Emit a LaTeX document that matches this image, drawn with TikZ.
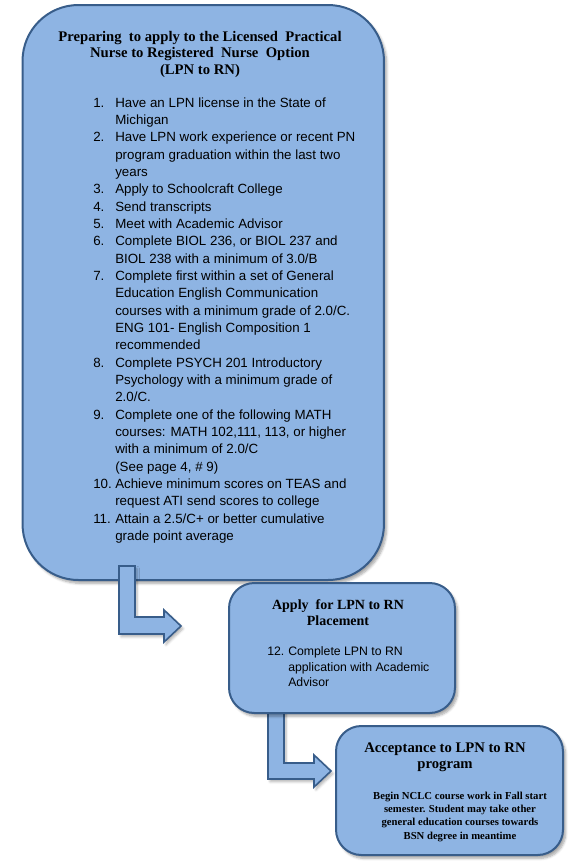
\documentclass[tikz,border=0pt]{standalone}
\usepackage{fontspec}
\setmainfont{Liberation Serif}
\newfontfamily\arialfont{Liberation Sans}
\usetikzlibrary{shadows.blur}

\definecolor{boxfill}{RGB}{142,180,227}
\definecolor{boxline}{RGB}{56,93,138}

\tikzset{
    stepbox/.style={draw=boxline, fill=boxfill, line width=1.5pt,
        inner sep=0pt, outer sep=0pt,
        blur shadow={shadow xshift=2pt, shadow yshift=-2.5pt,
            shadow blur steps=6, shadow opacity=35}},
    bentarrow/.style={draw=boxline, fill=boxfill, line width=1.2pt,
        line join=miter,
        blur shadow={shadow xshift=1.5pt, shadow yshift=-2pt,
            shadow blur steps=5, shadow opacity=30}},
    heading/.style={anchor=base, inner sep=0pt},
    listtext/.style={anchor=base west, inner sep=0pt}
}

\begin{document}
\begin{tikzpicture}[x=0.75pt, y=-0.75pt]
        \useasboundingbox (0,0) rectangle (582,861);

        % first box
        \node[stepbox, rounded corners=42pt,
            minimum width=271.1pt, minimum height=431.25pt] (prep) at (203.25,292.5) {};

        \node[heading, font=\bfseries\fontsize{11}{12.5}\selectfont] (prephead) at (200,41)
            {\begin{tabular}[t]{@{}c@{}}
            Preparing\ \ to apply to the Licensed\ \ Practical\\
            Nurse to Registered\ \ Nurse\ \ Option\\
            (LPN to RN)
            \end{tabular}};

        \node[listtext, font=\arialfont\fontsize{10}{13}\selectfont] (preplist) at (93,107)
            {\begin{tabular}[t]{@{}p{16.5pt}@{}l@{}}
            1. & Have an LPN license in the State of\\
               & Michigan\\
            2. & Have LPN work experience or recent PN\\
               & program graduation within the last two\\
               & years\\
            3. & Apply to Schoolcraft College\\
            4. & Send transcripts\\
            5. & Meet with Academic Advisor\\
            6. & Complete BIOL 236, or BIOL 237 and\\
               & BIOL 238 with a minimum of 3.0/B\\
            7. & Complete first within a set of General\\
               & Education English Communication\\
               & courses with a minimum grade of 2.0/C.\\
               & ENG 101- English Composition 1\\
               & recommended\\
            8. & Complete PSYCH 201 Introductory\\
               & Psychology with a minimum grade of\\
               & 2.0/C.\\
            9. & Complete one of the following MATH\\
               & courses: MATH 102,111, 113, or higher\\
               & with a minimum of 2.0/C\\
               & (See page 4, \# 9)\\
            10. & Achieve minimum scores on TEAS and\\
               & request ATI send scores to college\\
            11. & Attain a 2.5/C+ or better cumulative\\
               & grade point average
            \end{tabular}};

        %%% arrow from first box
        \coordinate (A1) at (119,566);
        \coordinate (A2) at (135,566);
        \coordinate (A3) at (135,617);
        \coordinate (A4) at (164,617);
        \coordinate (A5) at (164,610);
        \coordinate (A6) at (181,626);
        \coordinate (A7) at (164,642);
        \coordinate (A8) at (164,634);
        \coordinate (A9) at (119,634);

        \draw[bentarrow] (A1) -- (A2)
                        -- (A3)
                        -- (A4)
                        -- (A5)
                        -- (A6)
                        -- (A7)
                        -- (A8)
                        -- (A9) -- cycle;

        %%% arrow from second box
        \coordinate (B1) at (268,700);
        \coordinate (B2) at (284,700);
        \coordinate (B3) at (284,763);
        \coordinate (B4) at (314,763);
        \coordinate (B5) at (314,755);
        \coordinate (B6) at (331,771);
        \coordinate (B7) at (314,787);
        \coordinate (B8) at (314,779);
        \coordinate (B9) at (268,779);

        \draw[bentarrow] (B1) -- (B2)
                        -- (B3)
                        -- (B4)
                        -- (B5)
                        -- (B6)
                        -- (B7)
                        -- (B8)
                        -- (B9) -- cycle;

        % second box
        \node[stepbox, rounded corners=19pt,
            minimum width=169.5pt, minimum height=97.5pt] (apply) at (342,648) {};

        \node[heading, font=\bfseries\fontsize{10.5}{12}\selectfont] (applyhead) at (338,609)
            {\begin{tabular}[t]{@{}c@{}}
            Apply\ \ for LPN to RN\\
            Placement
            \end{tabular}};

        \node[listtext, font=\arialfont\fontsize{9.2}{11.6}\selectfont] (applylist) at (267,655.7)
            {\begin{tabular}[t]{@{}p{15.75pt}@{}l@{}}
            12. & Complete LPN to RN\\
                & application with Academic\\
                & Advisor
            \end{tabular}};

        % third box
        \node[stepbox, rounded corners=19pt,
            minimum width=170.25pt, minimum height=96.75pt] (accept) at (449.5,790.5) {};

        \node[heading, font=\bfseries\fontsize{11}{12}\selectfont] (accepthead) at (445,752.3)
            {\begin{tabular}[t]{@{}c@{}}
            Acceptance to LPN to RN\\
            program
            \end{tabular}};

        \node[heading, font=\bfseries\fontsize{8}{10}\selectfont] (acceptnote) at (460,799)
            {\begin{tabular}[t]{@{}c@{}}
            Begin NCLC course work in Fall start\\
            semester. Student may take other\\
            general education courses towards\\
            BSN degree in meantime
            \end{tabular}};
    \end{tikzpicture}
\end{document}
